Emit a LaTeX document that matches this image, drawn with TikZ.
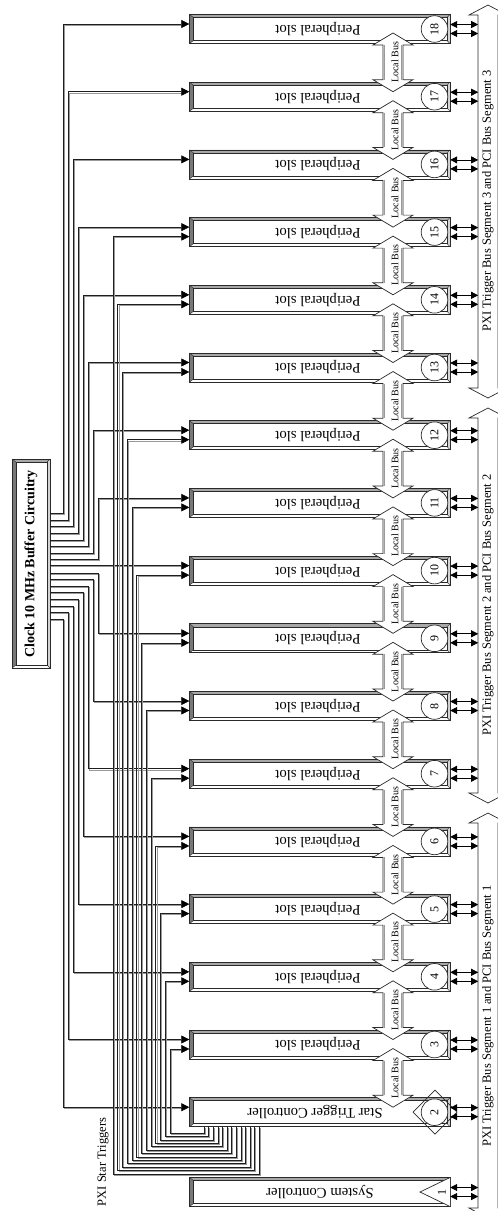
\documentclass[tikz,border=0pt]{standalone}
\usepackage{fontspec}
\setmainfont{Liberation Serif}
\usetikzlibrary{arrows.meta,calc}
\definecolor{topg}{HTML}{A8A8A8}
\definecolor{leftg}{HTML}{787878}
\definecolor{rightg}{HTML}{D4D4D4}
\definecolor{edge}{HTML}{2A2A2A}
\definecolor{lgray}{HTML}{9A9A9A}
\definecolor{wirec}{HTML}{1E1E1E}
\newcommand\myfs[1]{\fontsize{#1}{#1}\selectfont}
\newcommand\mybevel[4]{%
  \fill[white] (#1,#2) rectangle (#3,#4);
  \fill[topg] (#1,#2) -- (#3,#2) -- (#3-3,#2+3) -- (#1+4,#2+3) -- cycle;
  \fill[leftg] (#1,#2) -- (#1+4,#2+3) -- (#1+4,#4-3) -- (#1,#4) -- cycle;
  \fill[rightg] (#3,#2) -- (#3-3,#2+3) -- (#3-3,#4-3) -- (#3,#4) -- cycle;
  \draw[edge,line width=0.8pt] (#1,#2) rectangle (#3,#4);
  \draw[edge,line width=0.6pt] (#1+4,#2+3) rectangle (#3-3,#4-3);
  \draw[edge,line width=0.4pt] (#1,#2) -- (#1+4,#2+3) (#1,#4) -- (#1+4,#4-3) (#3,#2) -- (#3-3,#2+3) (#3,#4) -- (#3-3,#4-3);
}
\newcommand\localbus[3]{%
  \draw[edge,fill=white,line width=0.7pt] (#1,#2) -- (#1+20,#2+12) -- (#1+10,#2+12) -- (#1+10,#3-12) -- (#1+20,#3-12) -- (#1,#3) -- (#1-20,#3-12) -- (#1-10,#3-12) -- (#1-10,#2+12) -- (#1-20,#2+12) -- cycle;
  \draw[lgray,line width=1pt] (#1-8.5,#2+12) -- (#1-8.5,#3-12) (#1+8.5,#2+12) -- (#1+8.5,#3-12);
}
\newcommand\segbus[2]{%
  \draw[edge,fill=white,line width=0.7pt] (488,#1) -- (507,#1+10) -- (498,#1+10) -- (498,#2-10) -- (507,#2-10) -- (488,#2) -- (469,#2-10) -- (478,#2-10) -- (478,#1+10) -- (469,#1+10) -- cycle;
}
\newcommand\mywire[1]{%
  \draw[shadw] #1;
  \draw[dwire] #1;
}
\tikzset{
  slotnode/.style={rectangle,draw=none,minimum width=260.5pt,minimum height=29pt,inner sep=0pt},
  slottxt/.style={rotate=180,inner sep=0pt,font=\myfs{14.7}},
  num/.style={circle,draw=edge,fill=white,line width=0.7pt,minimum size=26.6pt,inner sep=0pt,font=\myfs{12},rotate=90},
  dwire/.style={line width=0.55pt,draw=wirec,-{Triangle[length=8pt,width=8pt,color=black]}},
  shadw/.style={line width=0.75pt,draw=lgray,shorten >=8pt,transform canvas={xshift=1.2pt,yshift=-1.2pt}},
  twoway/.style={line width=0.8pt,draw=black,{Triangle[length=7pt,width=7pt]}-{Triangle[length=7pt,width=7pt]}},
  buslbl/.style={rotate=90,inner sep=0pt,font=\myfs{12.5}},
  lbtxt/.style={rotate=90,inner sep=0pt,font=\myfs{10}},
}
\begin{document}
\begin{tikzpicture}[x=1pt,y=-1pt]
\useasboundingbox (0,0) rectangle (498,1211);
\fill[white] (0,0) rectangle (498,1211);

% segment buses
\segbus{5}{398}
\segbus{408}{803}
\segbus{813}{1218}
\node[buslbl] (seg3) at (488,201) {PXI Trigger Bus Segment 3 and PCI Bus Segment 3};
\node[buslbl] (seg2) at (488,605) {PXI Trigger Bus Segment 2 and PCI Bus Segment 2};
\node[buslbl] (seg1) at (488,1016) {PXI Trigger Bus Segment 1 and PCI Bus Segment 1};

% clock box
\mybevel{12}{459}{50}{668}
\node[rectangle,minimum width=38pt,minimum height=209pt,inner sep=0pt] (clk) at (31,563.5) {};
\node[rotate=90,inner sep=0pt,font=\myfs{14}\bfseries] (clktxt) at (31,564) {Clock 10 MHz Buffer Circuitry};

% slots
\foreach \k in {1,...,18}{
  \pgfmathsetmacro\c{\k==1 ? 1192 : 29+(18-\k)*67.7}
  \mybevel{189.5}{\c-14.5}{450}{\c+14.5}
  \node[slotnode] (slot\k) at (319.75,\c) {};
}
\node[slottxt] (t1) at (320,1192) {System Controller};
\node[slottxt] (t2) at (315,1112.2) {Star Trigger Controller};
\foreach \k in {3,...,18}{
  \pgfmathsetmacro\c{29+(18-\k)*67.7}
  \node[slottxt] (t\k) at (318,\c) {Peripheral slot};
}

% local buses
\foreach \k in {2,...,17}{
  \pgfmathsetmacro\ct{29+(18-\k-1)*67.7+4}
  \pgfmathsetmacro\cb{29+(18-\k)*67.7-5}
  \pgfmathsetmacro\cm{(\ct+\cb)/2}
  \localbus{393}{\ct}{\cb}
  \node[lbtxt] (lb\k) at (395,\cm) {Local Bus};
}

% numbers
\draw[edge,fill=white,line width=0.7pt] (450,1177.5) -- (420,1192) -- (450,1206.5);
\node[rotate=90,inner sep=0pt,font=\myfs{12}] (num1) at (442,1192) {1};
\draw[edge,line width=0.7pt] (413,1112.2) -- (435,1090.2) -- (457,1112.2) -- (435,1134.2) -- cycle;
\foreach \k in {2,...,18}{
  \pgfmathsetmacro\c{29+(18-\k)*67.7}
  \node[num] (num\k) at (434.5,\c) {\k};
}

% bus connections
\foreach \k in {1,...,18}{
  \draw[twoway] ([yshift=4.5pt]slot\k.east) -- ++(28,0);
  \draw[twoway] ([yshift=-4.5pt]slot\k.east) -- ++(28,0);
}

% clock lines
\coordinate (a10) at ([yshift=5pt]slot10.west);
\mywire{(clk.east |- a10) -- (a10)}
\foreach \k in {2,...,9,11,12,13,14,15,16,17,18}{
  \pgfmathsetmacro\ye{566.2-(\k-10)*6.6}
  \pgfmathsetmacro\xv{98-5*(abs(\k-10)-1)}
  \pgfmathsetmacro\ya{29+(18-\k)*67.7-5}
  \coordinate (a\k) at ([yshift=5pt]slot\k.west);
  \mywire{(50,\ye) -- (\xv,\ye) -- (\xv,\ya) -- (a\k)}
}

% star trigger lines
\foreach \i in {0,...,12}{
  \pgfmathtruncatemacro\k{\i+3}
  \pgfmathsetmacro\xd{204+4.6*\i}
  \pgfmathsetmacro\yh{1133+3.4*\i}
  \pgfmathsetmacro\xv{170-4.75*\i}
  \pgfmathsetmacro\yb{29+(18-\k)*67.7+4.5}
  \coordinate (b\k) at ([yshift=-4.5pt]slot\k.west);
  \mywire{(\xd,1126.7) -- (\xd,\yh) -- (\xv,\yh) -- (\xv,\yb) -- (b\k)}
}
\node[rotate=90,inner sep=0pt,font=\myfs{12.5}] (pst) at (103,1162) {PXI Star Triggers};
\end{tikzpicture}
\end{document}
